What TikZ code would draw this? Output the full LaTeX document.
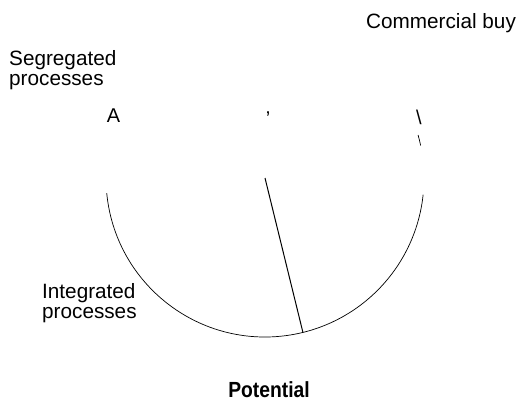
\documentclass[tikz,border=0pt]{standalone}
\usepackage{fontspec}
\setmainfont{Liberation Sans}
\usetikzlibrary{calc}
\begin{document}
\begin{tikzpicture}[x=1bp,y=-1bp,
  lbl/.style={inner sep=0pt,font=\fontsize{20.8}{19.5}\selectfont,align=left,anchor=base west},
  glyph/.style={inner sep=0pt,font=\fontsize{20}{20}\selectfont,anchor=center},
  arcline/.style={line width=0.7bp},
  radline/.style={line width=1.0bp}]
\useasboundingbox (0,0) rectangle (516,403);
\coordinate (c) at (265,178);
\coordinate (r) at ($(c)+(76.2:159)$);
% arc
\draw[arcline] ($(c)+(174.5:159)$) arc[start angle=174.5,end angle=6,radius=159];
\draw[arcline] ($(c)+(-11.8:159)$) arc[start angle=-11.8,end angle=-15.7,radius=159];
% radius
\draw[radline] (c) -- (r);
% labels
\node[lbl] (seg) at (9,85) {Segregated\\processes};
\node[lbl] (int) at (42,318) {Integrated\\processes};
\node[lbl] (com) at (366,28) {Commercial buy};
\node[glyph] (a) at (113.5,115.5) {A};
\node[glyph] (q) at (268,119) {'};
\node[glyph] (bs) at (419,117) {\textbackslash};
\node[inner sep=0pt,anchor=base,font=\fontsize{22}{22}\selectfont\bfseries,xscale=0.88] (pot) at (269,397) {Potential};
\end{tikzpicture}
\end{document}
